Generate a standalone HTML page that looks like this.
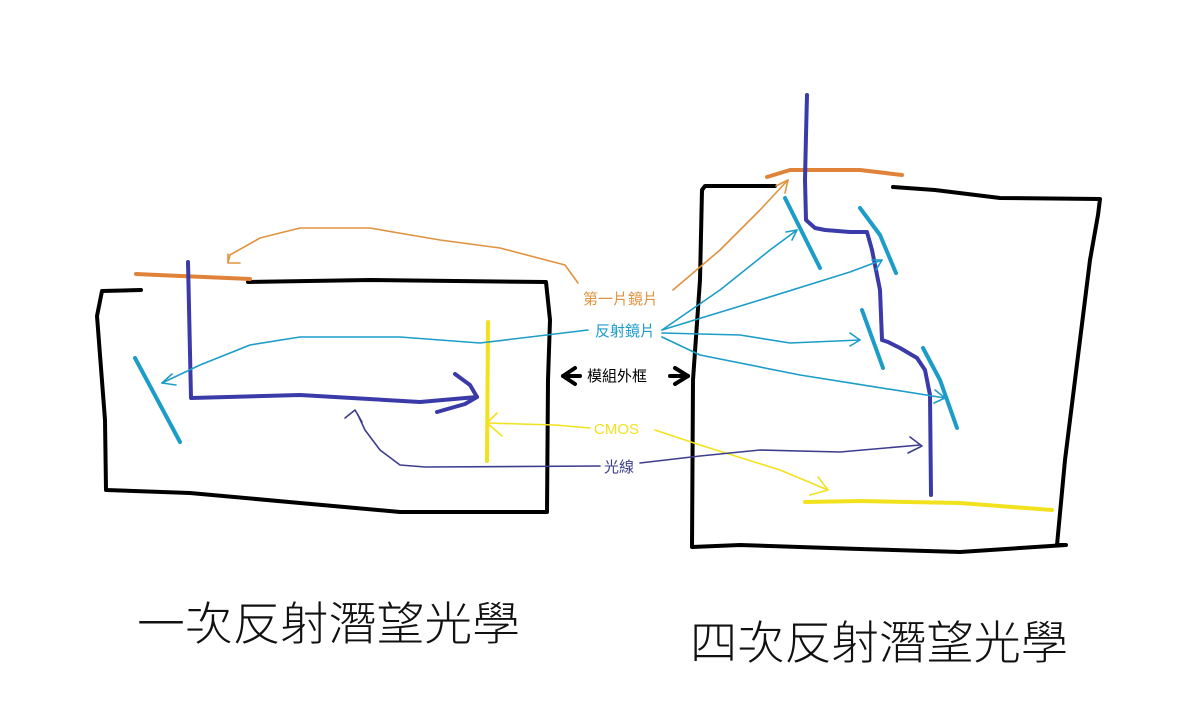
<!DOCTYPE html>
<html><head><meta charset="utf-8"><style>
html,body{margin:0;padding:0;background:#fff;}
svg{display:block;}
text{font-family:"Liberation Sans","Noto Sans CJK TC","Noto Sans CJK SC",sans-serif;}
</style></head><body>
<svg width="1201" height="722" viewBox="0 0 1201 722" xmlns="http://www.w3.org/2000/svg" fill="none" stroke-linecap="round" stroke-linejoin="round">
<!-- LEFT BOX -->
<g stroke="#000" stroke-width="4">
<polyline points="141,290 102,291 97,316 105,420 106,490 190,493 300,503 400,512 547,512 548,380 550,320 546,282 370,280 248,282"/>
</g>
<polyline points="136,274 158,275 250,279" stroke="#e0833a" stroke-width="4"/>
<polyline points="188,262 191,398 300,395 420,402 477,397" stroke="#3a3aa8" stroke-width="4"/>
<polyline points="455,374 470,385 477,397 465,404 437,412" stroke="#3a3aa8" stroke-width="4"/>
<line x1="135" y1="358" x2="180" y2="442" stroke="#1c9cc8" stroke-width="4"/>
<line x1="488" y1="322" x2="487" y2="461" stroke="#f2e21e" stroke-width="4"/>
<!-- RIGHT BOX -->
<g stroke="#000" stroke-width="4">
<polyline points="775,186 705,186 702,190 700,280 693,380 692,547 740,545 860,549 960,552 1066,545 1057,545 1065,460 1090,260 1098,215 1100,199 1000,198 935,190 893,187"/>
</g>
<polyline points="767,177 790,170 860,170 902,175" stroke="#e0833a" stroke-width="4"/>
<polyline points="807,95 806,135 805,180 806,220 815,228 825,230 850,232 867,232 872,250 880,290 882,340 888,342 900,348 917,358 925,370 930,395 931,495" stroke="#3a3aa8" stroke-width="4"/>
<g stroke="#1c9cc8" stroke-width="4">
<line x1="785" y1="198" x2="820" y2="268"/>
<polyline points="860,208 880,235 896,273"/>
<line x1="862" y1="310" x2="883" y2="368"/>
<polyline points="923,348 940,380 957,428"/>
</g>
<polyline points="805,502 860,501 960,503 1052,510" stroke="#f2e21e" stroke-width="4"/>
<!-- connectors -->
<g stroke-width="1.6">
<polyline points="578,283 565,265 500,248 440,240 370,228 300,228 260,238 230,255 228,262" stroke="#e0933f"/>
<polyline points="228,254 228,263 240,263" stroke="#e0933f"/>
<polyline points="673,290 720,250 760,210 788,180" stroke="#e0933f"/>
<polyline points="776,186 788,180 785,193" stroke="#e0933f"/>
<polyline points="588,330 480,343 400,337 300,337 250,345 200,365 162,383" stroke="#1c9cc8"/>
<polyline points="172,374 162,383 176,385" stroke="#1c9cc8"/>
<g stroke="#1c9cc8">
<polyline points="662,330 720,290 770,250 797,230"/>
<polyline points="786,232 797,230 792,240"/>
<polyline points="662,330 760,300 850,272 882,260"/>
<polyline points="872,260 882,260 876,270"/>
<polyline points="662,333 740,335 790,343 860,340"/>
<polyline points="850,333 860,340 850,346"/>
<polyline points="662,337 700,355 800,375 945,398"/>
<polyline points="935,390 945,398 934,403"/>
</g>
<polyline points="590,428 555,425 487,423" stroke="#f2e21e"/>
<polyline points="497,413 487,423 502,436" stroke="#f2e21e"/>
<polyline points="655,430 700,445 780,470 828,490" stroke="#f2e21e"/>
<polyline points="818,477 828,490 810,495" stroke="#f2e21e"/>
<polyline points="600,466 425,467 400,465 380,450 365,430 358,415" stroke="#3d3d90"/>
<polyline points="345,418 355,410 362,422" stroke="#3d3d90"/>
<polyline points="640,463 700,456 760,450 840,452 920,445" stroke="#3d3d90"/>
<polyline points="910,437 922,446 908,453" stroke="#3d3d90"/>
</g>
<!-- double arrow -->
<g stroke="#000" stroke-width="4">
<polyline points="575,368 563,376 575,384"/><line x1="563" y1="376" x2="580" y2="376"/>
<polyline points="675,368 688,376 675,384"/><line x1="670" y1="376" x2="688" y2="376"/>
</g>
<!-- labels -->
<g stroke="none" font-size="15">
<text x="583" y="304" fill="#e0933f">第一片鏡片</text>
<text x="595" y="336" fill="#1c9cc8">反射鏡片</text>
<text x="587" y="381" fill="#000">模組外框</text>
<text x="594" y="434" fill="#f2e21e">CMOS</text>
<text x="604" y="472" fill="#3d3d90">光線</text>
<text x="137" y="640" font-size="46" font-weight="300" fill="#111" textLength="383" lengthAdjust="spacingAndGlyphs">一次反射潛望光學</text>
<text x="690" y="659" font-size="46" font-weight="300" fill="#111" textLength="378" lengthAdjust="spacingAndGlyphs">四次反射潛望光學</text>
</g>
</svg>
</body></html>
